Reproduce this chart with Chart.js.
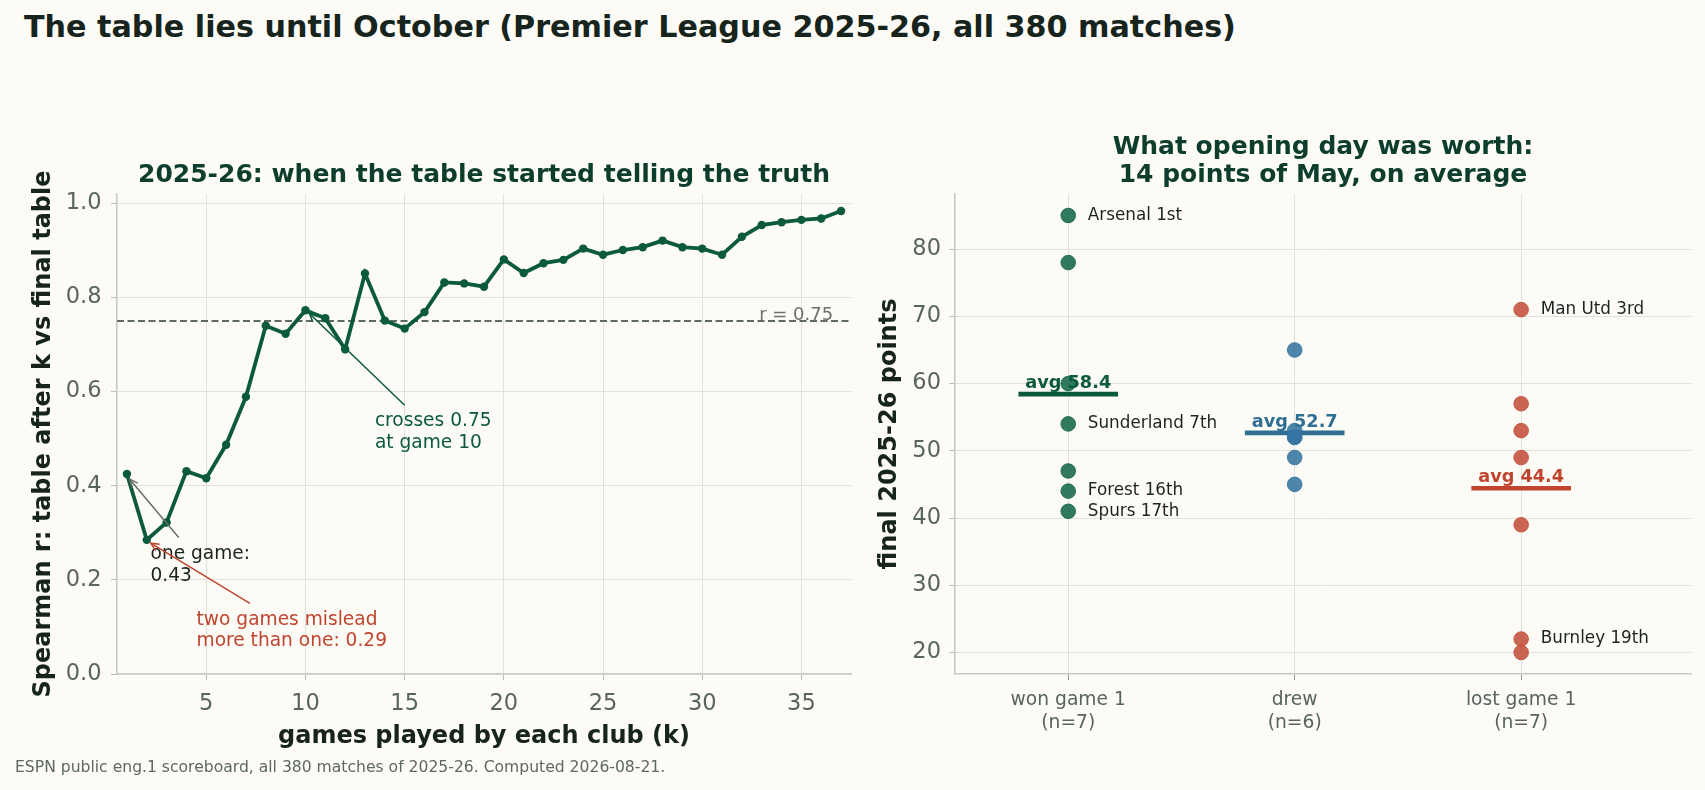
<!DOCTYPE html>
<html lang="en">
<head>
<meta charset="utf-8">
<title>The table lies until October</title>
<script src="https://cdn.jsdelivr.net/npm/chart.js@4.4.1/dist/chart.umd.min.js"></script>
<style>
  html, body { margin: 0; padding: 0; background: #fcfbf5; }
  body { width: 1705px; height: 790px; position: relative; overflow: hidden; font-family: "DejaVu Sans", sans-serif; }
  #titulo { position: absolute; left: 24px; top: 9px; font-size: 30.2px; line-height: 36px; font-weight: bold; color: #16241d; white-space: nowrap; }
  #pie { position: absolute; left: 15px; top: 758px; font-size: 15.6px; line-height: 18px; color: #5d6862; white-space: nowrap; }
  .caja { position: absolute; top: 0; height: 790px; }
  #cajaIzq { left: 0; width: 870px; }
  #cajaDer { left: 870px; width: 835px; }
</style>
</head>
<body>
<div id="titulo">The table lies until October (Premier League 2025-26, all 380 matches)</div>
<div class="caja" id="cajaIzq"><canvas id="grafico-spearman"></canvas></div>
<div class="caja" id="cajaDer"><canvas id="grafico-puntos"></canvas></div>
<div id="pie">ESPN public eng.1 scoreboard, all 380 matches of 2025-26. Computed 2026-08-21.</div>

<script>
// Datos: correlación de Spearman después de k partidos
const juegos = [1, 2, 3, 4, 5, 6, 7, 8, 9, 10, 11, 12, 13, 14, 15, 16, 17, 18, 19, 20,
  21, 22, 23, 24, 25, 26, 27, 28, 29, 30, 31, 32, 33, 34, 35, 36, 37];
const spearman = [0.425, 0.285, 0.322, 0.431, 0.416, 0.487, 0.589, 0.740, 0.723, 0.773,
  0.756, 0.690, 0.851, 0.751, 0.734, 0.769, 0.832, 0.830, 0.823, 0.881,
  0.852, 0.873, 0.880, 0.904, 0.891, 0.901, 0.907, 0.921, 0.907, 0.904,
  0.891, 0.929, 0.954, 0.960, 0.965, 0.968, 0.984];
const umbral = 0.75;
const ticksJuegos = [5, 10, 15, 20, 25, 30, 35];
const ticksR = [0, 0.2, 0.4, 0.6, 0.8, 1.0];

// Datos: puntos finales según el resultado del primer partido
const categorias = ["won game 1", "drew", "lost game 1"];
const puntosGano = [85, 78, 60, 54, 47, 44, 41];
const etiquetasGano = ["Arsenal 1st", "", "", "Sunderland 7th", "", "Forest 16th", "Spurs 17th"];
const puntosEmpato = [65, 53, 52, 52, 49, 45];
const etiquetasEmpato = ["", "", "", "", "", ""];
const puntosPerdio = [71, 57, 53, 49, 39, 22, 20];
const etiquetasPerdio = ["Man Utd 3rd", "", "", "", "", "Burnley 19th", ""];
const ticksPuntos = [20, 30, 40, 50, 60, 70, 80];

const FUENTE = "'DejaVu Sans', sans-serif";
Chart.defaults.font.family = FUENTE;

const VERDE = "#0b5a3e";
const GRIS_TICK = "#58645e";
const REJILLA = "#e2e2db";
const BORDE = "#c5cbc5";

function promedio(arr) {
  return arr.reduce((a, b) => a + b, 0) / arr.length;
}

// Flecha tipo "->" con la punta en (x2, y2)
function flecha(ctx, x1, y1, x2, y2, color, ancho) {
  ctx.save();
  ctx.strokeStyle = color;
  ctx.lineWidth = ancho;
  ctx.beginPath();
  ctx.moveTo(x1, y1);
  ctx.lineTo(x2, y2);
  ctx.stroke();
  const ang = Math.atan2(y2 - y1, x2 - x1);
  const L = 9, a = 0.42;
  ctx.beginPath();
  ctx.moveTo(x2 - L * Math.cos(ang - a), y2 - L * Math.sin(ang - a));
  ctx.lineTo(x2, y2);
  ctx.lineTo(x2 - L * Math.cos(ang + a), y2 - L * Math.sin(ang + a));
  ctx.stroke();
  ctx.restore();
}

function tituloPanel(chart, lineas, baseY) {
  const ctx = chart.ctx;
  const area = chart.chartArea;
  ctx.save();
  ctx.font = "bold 25px " + FUENTE;
  ctx.fillStyle = "#0c3d2d";
  ctx.textAlign = "center";
  ctx.textBaseline = "alphabetic";
  lineas.forEach((t, i) => ctx.fillText(t, (area.left + area.right) / 2, baseY + i * 27.7));
  ctx.restore();
}

// Notas del gráfico izquierdo (en coordenadas de datos)
const notasIzq = [
  { texto: ["crosses 0.75", "at game 10"], x: 13.5, y: 0.537, color: "#0b5a3e",
    desde: [15.0, 0.571], hasta: [10.2, 0.766], colorFlecha: "#0b5a3e" },
  { texto: ["one game:", "0.43"], x: 2.19, y: 0.254, color: "#1b2520",
    desde: [3.61, 0.290], hasta: [1.14, 0.414], colorFlecha: "#666e69" },
  { texto: ["two games mislead", "more than one: 0.29"], x: 4.51, y: 0.115, color: "#c0452f",
    desde: [7.2, 0.150], hasta: [2.2, 0.278], colorFlecha: "#c0452f" }
];

const pluginIzq = {
  id: "notasIzq",
  afterDatasetsDraw(chart) {
    const ctx = chart.ctx;
    const sx = chart.scales.x, sy = chart.scales.y;
    ctx.save();
    ctx.font = "18px " + FUENTE;
    ctx.fillStyle = "#68716c";
    ctx.textAlign = "right";
    ctx.textBaseline = "bottom";
    ctx.fillText("r = " + umbral.toFixed(2), sx.getPixelForValue(36.6), sy.getPixelForValue(umbral) + 3);

    notasIzq.forEach(n => {
      flecha(ctx, sx.getPixelForValue(n.desde[0]), sy.getPixelForValue(n.desde[1]),
        sx.getPixelForValue(n.hasta[0]), sy.getPixelForValue(n.hasta[1]), n.colorFlecha, 1.5);
      ctx.font = "18.6px " + FUENTE;
      ctx.fillStyle = n.color;
      ctx.textAlign = "left";
      ctx.textBaseline = "middle";
      const px = sx.getPixelForValue(n.x), py = sy.getPixelForValue(n.y);
      n.texto.forEach((t, i) => ctx.fillText(t, px, py + i * 21.6));
    });
    ctx.restore();
  },
  afterDraw(chart) {
    tituloPanel(chart, ["2025-26: when the table started telling the truth"], 182);
  }
};

new Chart(document.getElementById("grafico-spearman"), {
  type: "line",
  data: {
    datasets: [
      {
        data: juegos.map((k, i) => ({ x: k, y: spearman[i] })),
        borderColor: VERDE,
        backgroundColor: VERDE,
        borderWidth: 3.8,
        pointRadius: 4.2,
        pointBorderWidth: 0,
        pointBackgroundColor: VERDE,
        tension: 0
      },
      {
        data: [{ x: 0.5, y: umbral }, { x: 37.5, y: umbral }],
        borderColor: "#5f6964",
        borderWidth: 2,
        borderDash: [7, 3.5],
        pointRadius: 0
      }
    ]
  },
  options: {
    responsive: true,
    maintainAspectRatio: false,
    animation: false,
    events: [],
    layout: { padding: { left: 0, right: 19, top: 194, bottom: 36 } },
    plugins: { legend: { display: false }, tooltip: { enabled: false }, title: { display: false } },
    scales: {
      x: {
        type: "linear",
        min: 0.5,
        max: 37.5,
        afterBuildTicks: s => { s.ticks = ticksJuegos.map(v => ({ value: v })); },
        afterFit: s => { s.height = 80; },
        grid: { color: REJILLA, lineWidth: 1, tickLength: 6, tickColor: "#b8bfb9" },
        border: { color: BORDE, width: 1.6 },
        ticks: { font: { size: 22.5 }, color: GRIS_TICK, padding: 10.5, maxRotation: 0, autoSkip: false },
        title: { display: true, text: "games played by each club (k)", color: "#16241d",
          font: { size: 24, weight: "bold" }, padding: { top: 0, bottom: 3 } }
      },
      y: {
        min: 0,
        max: 1.02,
        afterBuildTicks: s => { s.ticks = ticksR.map(v => ({ value: v })); },
        afterFit: s => { s.width = 117; },
        grid: { color: REJILLA, lineWidth: 1, tickLength: 6, tickColor: "#b8bfb9" },
        border: { color: BORDE, width: 1.6 },
        ticks: { font: { size: 22.5 }, color: GRIS_TICK, padding: 9.5, callback: v => v.toFixed(1) },
        title: { display: true, text: "Spearman r: table after k vs final table", color: "#16241d",
          font: { size: 24, weight: "bold" }, padding: { top: 29.5, bottom: 0 } }
      }
    }
  },
  plugins: [pluginIzq]
});

// Gráfico derecho: puntos por grupo
const grupos = [
  { puntos: puntosGano, etiquetas: etiquetasGano, color: "rgba(22, 104, 74, 0.88)", linea: "#0b5a3e" },
  { puntos: puntosEmpato, etiquetas: etiquetasEmpato, color: "rgba(52, 116, 160, 0.88)", linea: "#2f6f94" },
  { puntos: puntosPerdio, etiquetas: etiquetasPerdio, color: "rgba(196, 80, 60, 0.88)", linea: "#c0452f" }
];
const MEDIO_ANCHO = 0.22;

const datasetsDer = [];
grupos.forEach((g, i) => {
  datasetsDer.push({
    type: "scatter",
    data: g.puntos.map(p => ({ x: i, y: p })),
    pointRadius: 7.3,
    pointBackgroundColor: g.color,
    pointBorderColor: g.color,
    pointBorderWidth: 1,
    order: 1
  });
});
grupos.forEach((g, i) => {
  const m = promedio(g.puntos);
  datasetsDer.push({
    type: "line",
    data: [{ x: i - MEDIO_ANCHO, y: m }, { x: i + MEDIO_ANCHO, y: m }],
    borderColor: g.linea,
    borderWidth: 4.7,
    borderCapStyle: "butt",
    pointRadius: 0,
    order: 2
  });
});

const pluginDer = {
  id: "notasDer",
  afterDatasetsDraw(chart) {
    const ctx = chart.ctx;
    const sx = chart.scales.x, sy = chart.scales.y;
    ctx.save();
    grupos.forEach((g, i) => {
      const cx = sx.getPixelForValue(i);
      ctx.font = "16.8px " + FUENTE;
      ctx.fillStyle = "#1b2520";
      ctx.textAlign = "left";
      ctx.textBaseline = "middle";
      g.puntos.forEach((p, j) => {
        if (g.etiquetas[j]) ctx.fillText(g.etiquetas[j], cx + 19.6, sy.getPixelForValue(p));
      });
      const m = promedio(g.puntos);
      ctx.font = "bold 17.7px " + FUENTE;
      ctx.fillStyle = g.linea;
      ctx.textAlign = "center";
      ctx.textBaseline = "alphabetic";
      ctx.fillText("avg " + m.toFixed(1), cx, sy.getPixelForValue(m) - 6);
    });
    ctx.restore();
  },
  afterDraw(chart) {
    tituloPanel(chart, ["What opening day was worth:", "14 points of May, on average"], 154);
  }
};

new Chart(document.getElementById("grafico-puntos"), {
  type: "scatter",
  data: { datasets: datasetsDer },
  options: {
    responsive: true,
    maintainAspectRatio: false,
    animation: false,
    events: [],
    layout: { padding: { left: 0, right: 14, top: 194, bottom: 36 } },
    plugins: { legend: { display: false }, tooltip: { enabled: false }, title: { display: false } },
    scales: {
      x: {
        type: "linear",
        min: -0.5,
        max: 2.75,
        afterBuildTicks: s => { s.ticks = categorias.map((c, i) => ({ value: i })); },
        afterFit: s => { s.height = 80; },
        grid: { color: REJILLA, lineWidth: 1, tickLength: 6, tickColor: "#8f9891" },
        border: { color: BORDE, width: 1.6 },
        ticks: {
          font: { size: 18.7 }, color: GRIS_TICK, padding: 9, maxRotation: 0, autoSkip: false,
          callback: v => [categorias[v], "(n=" + grupos[v].puntos.length + ")"]
        }
      },
      y: {
        min: 16.8,
        max: 88.2,
        afterBuildTicks: s => { s.ticks = ticksPuntos.map(v => ({ value: v })); },
        afterFit: s => { s.width = 85; },
        grid: { color: REJILLA, lineWidth: 1, tickLength: 6, tickColor: "#b8bfb9" },
        border: { color: BORDE, width: 1.6 },
        ticks: { font: { size: 22.5 }, color: GRIS_TICK, padding: 8 },
        title: { display: true, text: "final 2025-26 points", color: "#16241d",
          font: { size: 24, weight: "bold" }, padding: { top: 5.5, bottom: 0 } }
      }
    }
  },
  plugins: [pluginDer]
});
</script>
</body>
</html>
